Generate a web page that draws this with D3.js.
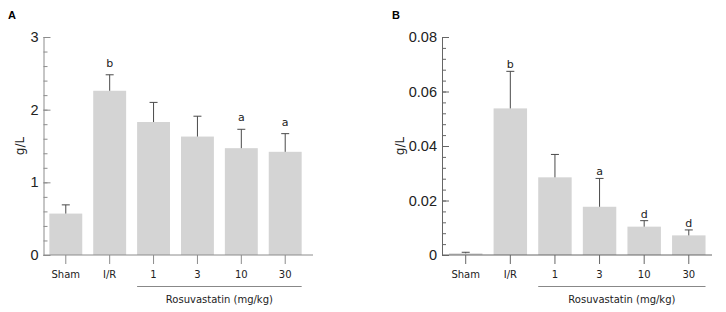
<!DOCTYPE html>
<html>
<head>
<meta charset="utf-8">
<script src="https://cdn.jsdelivr.net/npm/d3@7"></script>
<style>
  body { margin: 0; background: #fff; }
  text { font-family: "DejaVu Sans", Verdana, sans-serif; }
</style>
</head>
<body>
<svg width="726" height="312"></svg>
<script>
// groups on the x axis (same for both panels)
const categories = ["Sham", "I/R", "1", "3", "10", "30"];

// panel A - mean and SD (g/L)
const meanA = [0.57, 2.26, 1.83, 1.63, 1.47, 1.42];
const errA = [0.12, 0.22, 0.27, 0.28, 0.26, 0.25];
const sigA = ["", "b", "", "", "a", "a"];
const ticksA = [0, 1, 2, 3];

// panel B - mean and SD (g/L)
const meanB = [0.0006, 0.0538, 0.0285, 0.0177, 0.0104, 0.0072];
const errB = [0.0004, 0.0136, 0.0084, 0.0104, 0.0022, 0.002];
const sigB = ["", "b", "", "a", "d", "d"];
const ticksB = [0, 0.02, 0.04, 0.06, 0.08];

const groupLabel = "Rosuvastatin (mg/kg)";

const svg = d3.select('svg');
const plotTop = 37, plotBottom = 255;

function panel(opt) {
    const g = svg.append('g');

    // band range is a bit wider than the axis line, bars sit close to the y axis
    const x = d3.scaleBand()
        .domain(categories)
        .range([opt.band0, opt.band1])
        .paddingInner(0.25)
        .paddingOuter(0.19);

    const y = d3.scaleLinear()
        .domain([0, opt.max])
        .range([plotBottom, plotTop]);

    // bars
    g.selectAll('rect')
        .data(opt.mean)
        .enter()
        .append('rect')
            .attr('x', (d, i) => x(categories[i]))
            .attr('y', d => y(d))
            .attr('width', x.bandwidth())
            .attr('height', d => plotBottom - y(d))
            .style('fill', '#d4d4d4');

    // error bars, only the upper half
    const eb = g.selectAll('.err')
        .data(opt.mean)
        .enter()
        .append('g')
            .attr('class', 'err')
            .attr('transform', (d, i) => "translate(" + (x(categories[i]) + x.bandwidth() / 2) + ",0)");
    eb.append('line')
        .attr('y1', d => y(d))
        .attr('y2', (d, i) => y(d + opt.err[i]))
        .style('stroke', '#4a4a4a');
    eb.append('line')
        .attr('x1', -4).attr('x2', 4)
        .attr('y1', (d, i) => y(d + opt.err[i]))
        .attr('y2', (d, i) => y(d + opt.err[i]))
        .style('stroke', '#4a4a4a');

    // significance letters
    eb.append('text')
        .attr('y', (d, i) => y(d + opt.err[i]) - opt.sigGap)
        .attr('text-anchor', 'middle')
        .style('font-size', '11px')
        .style('fill', '#222')
        .text((d, i) => opt.sig[i]);

    // y axis, minor ticks then major ticks (ticks point inwards)
    const minor = d3.range(0, opt.max + opt.minorStep / 2, opt.minorStep);
    g.append('g')
        .attr('transform', "translate(" + opt.x0 + ",0)")
        .call(d3.axisLeft(y).tickValues(minor).tickSize(-4).tickFormat(''))
        .call(a => a.select('.domain').remove())
        .call(a => a.selectAll('line').style('stroke', opt.axisColor));

    g.append('g')
        .attr('transform', "translate(" + opt.x0 + ",0)")
        .call(d3.axisLeft(y).tickValues(opt.ticks).tickSize(-7).tickSizeOuter(0).tickPadding(5).tickFormat(d => d === 0 ? "0" : d3.format(opt.fmt)(d)))
        .call(a => a.select('.domain').style('stroke', opt.axisColor))
        .call(a => a.selectAll('line').style('stroke', opt.axisColor))
        .call(a => a.selectAll('text')
            .style('font-family', '"Liberation Sans", Arial, sans-serif')
            .style('font-size', '14.5px')
            .style('fill', '#222'));

    // x axis
    g.append('g')
        .attr('transform', "translate(0," + plotBottom + ")")
        .call(d3.axisBottom(x).tickSize(9).tickSizeOuter(0).tickPadding(7))
        .call(a => a.select('.domain').attr('d', "M" + opt.x0 + ",0H" + opt.xEnd).style('stroke', opt.axisColor))
        .call(a => a.selectAll('line').style('stroke', opt.axisColor))
        .call(a => a.selectAll('text')
            .style('font-size', '10px')
            .style('fill', '#222'));

    // bracket line under the rosuvastatin doses
    const lx0 = x("1"), lx1 = x("30") + x.bandwidth();
    g.append('line')
        .attr('x1', lx0).attr('x2', lx1)
        .attr('y1', 286.5).attr('y2', 286.5)
        .style('stroke', '#888');
    g.append('text')
        .attr('x', (lx0 + lx1) / 2)
        .attr('y', 303)
        .attr('text-anchor', 'middle')
        .style('font-size', '10px')
        .style('fill', '#222')
        .text(groupLabel);

    // y label
    g.append('text')
        .attr('transform', "translate(" + opt.ylabX + "," + (plotTop + plotBottom) / 2 + ") rotate(-90)")
        .attr('text-anchor', 'middle')
        .style('font-size', '12px')
        .style('fill', '#222')
        .text("g/L");

    // panel letter
    g.append('text')
        .attr('x', opt.letterX)
        .attr('y', 19)
        .style('font-family', '"Liberation Sans", Arial, sans-serif')
        .style('font-weight', 'bold')
        .style('font-size', '11px')
        .text(opt.letter);
}

panel({ letter: "A", letterX: 8, x0: 43.5, band0: 41, band1: 310, xEnd: 313, max: 3, minorStep: 0.2,
        mean: meanA, err: errA, sig: sigA, ticks: ticksA, fmt: "d",
        sigGap: 8, ylabX: 24, axisColor: '#8c8c8c' });

panel({ letter: "B", letterX: 392, x0: 442, band0: 440.5, band1: 714, xEnd: 712, max: 0.08, minorStep: 0.004,
        mean: meanB, err: errB, sig: sigB, ticks: ticksB, fmt: ".2f",
        sigGap: 3, ylabX: 404, axisColor: '#666' });
</script>
</body>
</html>
